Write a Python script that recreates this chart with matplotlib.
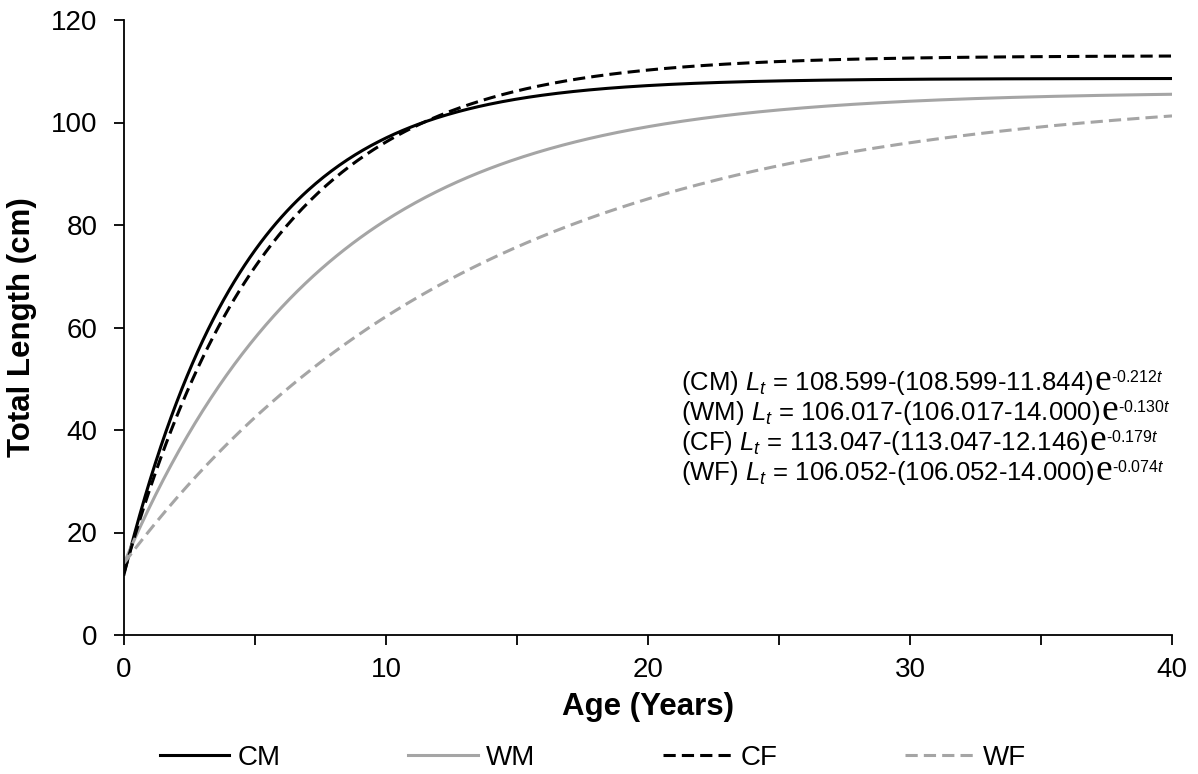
import numpy as np
import matplotlib.pyplot as plt
from matplotlib.transforms import IdentityTransform

plt.rcParams["font.family"] = "Liberation Sans"
plt.rcParams["mathtext.fontset"] = "custom"
plt.rcParams["mathtext.rm"] = "Liberation Sans"
plt.rcParams["mathtext.it"] = "Liberation Sans:italic"

# von Bertalanffy parameters read from the annotation
groups = ["CM", "WM", "CF", "WF"]
l_inf = [108.599, 106.017, 113.047, 106.052]
l_0 = [11.844, 14.000, 12.146, 14.000]
k = [0.212, 0.130, 0.179, 0.074]

colors = ["black", "#A5A5A5", "black", "#A5A5A5"]
styles = ["-", "-", (0, (4, 2)), (0, (4, 2))]

t = np.linspace(0, 40, 400)

W, H = 1198, 774
fig = plt.figure(figsize=(W / 100, H / 100), dpi=100)
ax = fig.add_axes([124 / W, 1 - 635 / H, (1172 - 124) / W, (635 - 20) / H])

for g, li, l0, kk, c, ls in zip(groups, l_inf, l_0, k, colors, styles):
    L = li - (li - l0) * np.exp(-kk * t)
    ax.plot(t, L, color=c, linestyle=ls, linewidth=2.2, label=g)

ax.set_xlim(0, 40)
ax.set_ylim(0, 120)
ax.set_xticks(np.arange(0, 41, 5))
ax.set_xticklabels([str(v) if v % 10 == 0 else "" for v in range(0, 41, 5)])
ax.set_yticks(np.arange(0, 121, 20))
ax.spines["top"].set_visible(False)
ax.spines["right"].set_visible(False)
for s in ["left", "bottom"]:
    ax.spines[s].set_linewidth(1.3)
ax.tick_params(axis="both", labelsize=20, length=7, width=1.3, direction="out")
ax.tick_params(axis="x", pad=9)
ax.tick_params(axis="y", pad=12)

ax.set_xlabel("Age (Years)", fontsize=22.5, fontweight="bold", labelpad=6)
ax.set_ylabel("Total Length (cm)", fontsize=22.5, fontweight="bold", labelpad=10)

# equation annotations, built piece by piece in pixel coordinates
renderer = fig.canvas.get_renderer()
px = IdentityTransform()
x_start = 681
for i, (g, li, l0, kk) in enumerate(zip(groups, l_inf, l_0, k)):
    yb = H - (390 + i * 30)
    main = fig.text(x_start, yb, f"({g}) $L_t$ = {li:.3f}-({li:.3f}-{l0:.3f})",
                    transform=px, fontsize=18.5, ha="left", va="baseline")
    x1 = main.get_window_extent(renderer).x1
    e = fig.text(x1 + 1, yb, "e", transform=px, fontsize=27,
                 family="Liberation Serif", ha="left", va="baseline")
    x2 = e.get_window_extent(renderer).x1
    fig.text(x2, yb + 8, f"-{kk:.3f}$t$", transform=px, fontsize=11.5,
             ha="left", va="baseline")

fig.legend(loc="center", bbox_to_anchor=(0.495, 1 - 758 / H), ncol=4,
           frameon=False, fontsize=20, handlelength=2.5, handletextpad=0.3,
           columnspacing=4.6)

plt.savefig("out.png", dpi=100)
